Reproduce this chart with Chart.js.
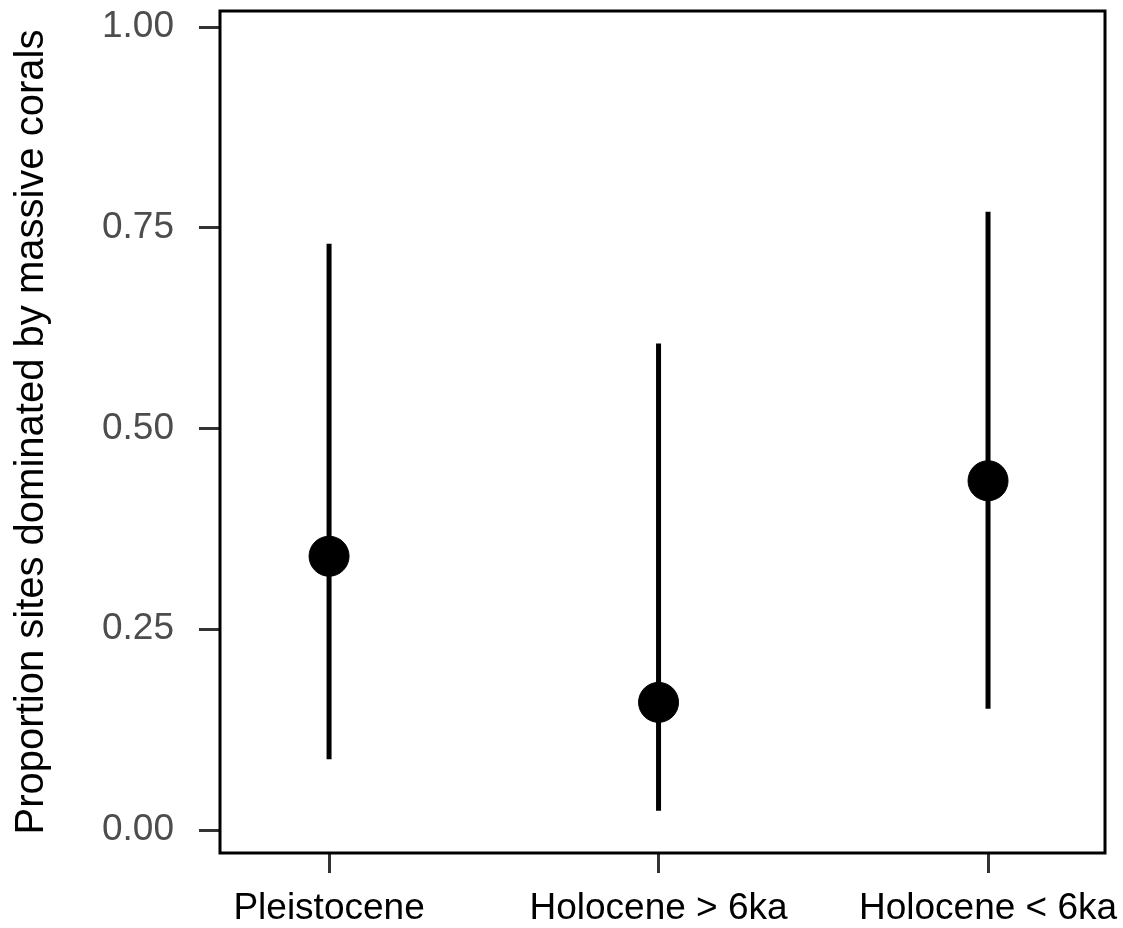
<!DOCTYPE html>
<html>
<head>
<meta charset="utf-8">
<script src="https://cdn.jsdelivr.net/npm/chart.js@4"></script>
<style>
  html, body { margin: 0; padding: 0; background: #fff; }
  #wrap { width: 1123px; height: 928px; }
</style>
</head>
<body>
<div id="wrap"><canvas id="chart" width="1123" height="928"></canvas></div>
<script>
// data
const categories = ['Pleistocene', 'Holocene > 6ka', 'Holocene < 6ka'];
const estimate = [0.341, 0.159, 0.435];
const lower = [0.088, 0.024, 0.151];
const upper = [0.730, 0.606, 0.770];
const yTicks = [0, 0.25, 0.5, 0.75, 1];

const points = categories.map((c, i) => ({ x: i + 1, y: estimate[i] }));

// vertical intervals drawn through the scales, plus the panel box
const intervalPlugin = {
    id: 'intervals',
    beforeDatasetsDraw(chart) {
        const { ctx, scales } = chart;
        ctx.save();
        ctx.strokeStyle = '#000';
        ctx.lineWidth = 5;
        categories.forEach((c, i) => {
            const x = scales.x.getPixelForValue(i + 1);
            ctx.beginPath();
            ctx.moveTo(x, scales.y.getPixelForValue(lower[i]));
            ctx.lineTo(x, scales.y.getPixelForValue(upper[i]));
            ctx.stroke();
        });
        ctx.restore();
    },
    afterDraw(chart) {
        const { ctx, chartArea: a } = chart;
        ctx.save();
        ctx.strokeStyle = '#000';
        ctx.lineWidth = 3;
        ctx.strokeRect(a.left, a.top, a.right - a.left, a.bottom - a.top);
        ctx.restore();
    }
};

new Chart(document.getElementById('chart'), {
    type: 'scatter',
    data: {
        datasets: [{
            data: points,
            backgroundColor: '#000',
            borderColor: '#000',
            pointRadius: 20,
            pointHoverRadius: 20
        }]
    },
    options: {
        responsive: false,
        animation: false,
        layout: { autoPadding: false, padding: { top: 11, right: 18, left: 0, bottom: 0 } },
        plugins: { legend: { display: false }, tooltip: { enabled: false } },
        scales: {
            x: {
                type: 'linear',
                min: 0.669,
                max: 3.355,
                afterBuildTicks: (axis) => { axis.ticks = categories.map((c, i) => ({ value: i + 1 })); },
                afterFit: (axis) => {
                    axis.height = 75;
                    axis.paddingLeft = 0;
                    axis.paddingRight = 0;
                },
                ticks: {
                    callback: (v) => categories[v - 1],
                    color: '#000',
                    font: { family: 'Liberation Sans', size: 37 },
                    padding: 14,
                    maxRotation: 0,
                    autoSkip: false
                },
                grid: { drawOnChartArea: false, drawTicks: true, tickLength: 20, tickColor: '#333', tickWidth: 3 },
                border: { display: false }
            },
            y: {
                min: -0.0286,
                max: 1.020,
                afterBuildTicks: (axis) => { axis.ticks = yTicks.map(v => ({ value: v })); },
                afterFit: (axis) => {
                    axis.width = 220;
                    axis.paddingTop = 0;
                    axis.paddingBottom = 0;
                },
                ticks: {
                    callback: (v) => v.toFixed(2),
                    color: '#4d4d4d',
                    font: { family: 'Liberation Sans', size: 37 },
                    padding: 25
                },
                grid: { drawOnChartArea: false, drawTicks: true, tickLength: 21, tickColor: '#333', tickWidth: 3 },
                border: { display: false },
                title: {
                    display: true,
                    text: 'Proportion sites dominated by massive corals',
                    color: '#000',
                    font: { family: 'Liberation Sans', size: 40 },
                    padding: { top: 8, bottom: 0 }
                }
            }
        }
    },
    plugins: [intervalPlugin]
});
</script>
</body>
</html>
